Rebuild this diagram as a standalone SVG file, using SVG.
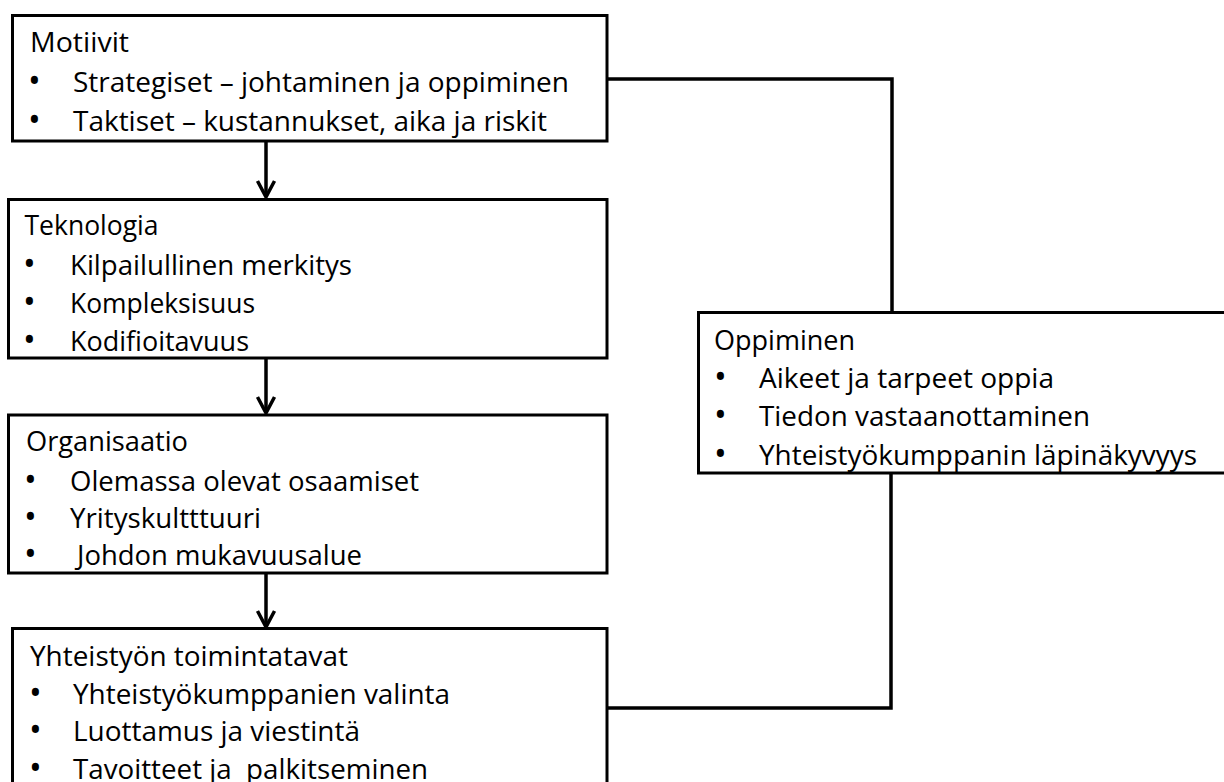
<svg xmlns="http://www.w3.org/2000/svg" width="1224" height="782" viewBox="0 0 1224 782">
  <style>
    .box { fill: #ffffff; stroke: #000000; stroke-width: 3; }
    .wire { fill: none; stroke: #000000; stroke-width: 3.5; stroke-linejoin: miter; }
    .flow { fill: none; stroke: #000000; stroke-width: 3.5; }
    text { font-family: "Open Sans", "Noto Sans", "Liberation Sans", sans-serif; font-size: 28px; fill: #000000; }
    text.dot { font-size: 34px; }
  </style>
  <defs>
    <marker id="chevron" viewBox="-20 -12 24 24" refX="0" refY="0" markerWidth="24" markerHeight="24" markerUnits="userSpaceOnUse" orient="auto">
      <path d="M-16,-8.5 L0,0 L-16,8.5" fill="none" stroke="#000000" stroke-width="3.5" stroke-linejoin="miter"/>
    </marker>
  </defs>

  <!-- connectors -->
  <g id="connectors">
    <path class="wire" d="M607,79 H892 V312"/>
    <path class="wire" d="M607,708 H891 V473"/>
    <line class="flow" x1="266" y1="141" x2="266" y2="197" marker-end="url(#chevron)"/>
    <line class="flow" x1="266" y1="358" x2="266" y2="413" marker-end="url(#chevron)"/>
    <line class="flow" x1="266" y1="573" x2="266" y2="627" marker-end="url(#chevron)"/>
  </g>

  <g id="motiivit">
    <rect class="box" x="12.5" y="15.5" width="594.5" height="125.5"/>
    <text x="30" y="52" textLength="99" lengthAdjust="spacingAndGlyphs">Motiivit</text>
    <text class="dot" x="28" y="93">•</text>
    <text x="73" y="92" textLength="496" lengthAdjust="spacingAndGlyphs">Strategiset – johtaminen ja oppiminen</text>
    <text class="dot" x="28" y="132">•</text>
    <text x="73" y="131" textLength="474" lengthAdjust="spacingAndGlyphs">Taktiset – kustannukset, aika ja riskit</text>
  </g>

  <g id="teknologia">
    <rect class="box" x="8.5" y="199.5" width="598.5" height="158.5"/>
    <text x="24.5" y="235" textLength="134" lengthAdjust="spacingAndGlyphs">Teknologia</text>
    <text class="dot" x="23" y="276">•</text>
    <text x="70" y="275" textLength="282" lengthAdjust="spacingAndGlyphs">Kilpailullinen merkitys</text>
    <text class="dot" x="23" y="314">•</text>
    <text x="70" y="313" textLength="185" lengthAdjust="spacingAndGlyphs">Kompleksisuus</text>
    <text class="dot" x="23" y="352">•</text>
    <text x="70" y="351" textLength="179" lengthAdjust="spacingAndGlyphs">Kodifioitavuus</text>
  </g>

  <g id="organisaatio">
    <rect class="box" x="8.5" y="415" width="598.5" height="158"/>
    <text x="26" y="451" textLength="162" lengthAdjust="spacingAndGlyphs">Organisaatio</text>
    <text class="dot" x="24" y="492">•</text>
    <text x="70" y="491" textLength="349" lengthAdjust="spacingAndGlyphs">Olemassa olevat osaamiset</text>
    <text class="dot" x="24" y="529">•</text>
    <text x="70" y="528" textLength="191" lengthAdjust="spacingAndGlyphs">Yrityskultttuuri</text>
    <text class="dot" x="24" y="566">•</text>
    <text x="77" y="565" textLength="285" lengthAdjust="spacingAndGlyphs">Johdon mukavuusalue</text>
  </g>

  <g id="yhteistyo">
    <rect class="box" x="12.5" y="628.5" width="594.5" height="180"/>
    <text x="30" y="666" textLength="318" lengthAdjust="spacingAndGlyphs">Yhteistyön toimintatavat</text>
    <text class="dot" x="29" y="705">•</text>
    <text x="73" y="704" textLength="377" lengthAdjust="spacingAndGlyphs">Yhteistyökumppanien valinta</text>
    <text class="dot" x="29" y="742">•</text>
    <text x="73" y="741" textLength="287" lengthAdjust="spacingAndGlyphs">Luottamus ja viestintä</text>
    <text class="dot" x="29" y="780">•</text>
    <text x="73" y="779" textLength="355" lengthAdjust="spacingAndGlyphs" xml:space="preserve">Tavoitteet ja  palkitseminen</text>
  </g>

  <g id="oppiminen">
    <rect class="box" x="698.5" y="312.5" width="540" height="160.5"/>
    <text x="714" y="350" textLength="141" lengthAdjust="spacingAndGlyphs">Oppiminen</text>
    <text class="dot" x="714" y="389">•</text>
    <text x="759" y="388" textLength="295" lengthAdjust="spacingAndGlyphs">Aikeet ja tarpeet oppia</text>
    <text class="dot" x="714" y="427">•</text>
    <text x="759" y="426" textLength="331" lengthAdjust="spacingAndGlyphs">Tiedon vastaanottaminen</text>
    <text class="dot" x="714" y="466">•</text>
    <text x="759" y="465" textLength="438" lengthAdjust="spacingAndGlyphs">Yhteistyökumppanin läpinäkyvyys</text>
  </g>
</svg>
